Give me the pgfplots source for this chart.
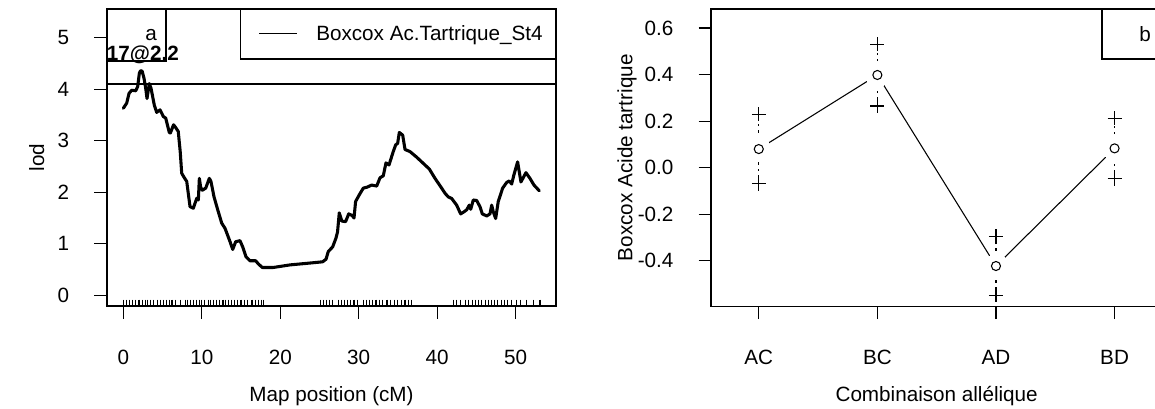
\documentclass[border=0pt]{standalone}
\usepackage{fontspec}
\setmainfont{Liberation Sans}
\usepackage{pgfplots}
\pgfplotsset{compat=1.18}

\pgfplotstableread{
x y
0.00 3.63
0.43 3.73
0.73 3.92
1.07 3.98
1.58 3.97
1.83 4.05
2.04 4.31
2.20 4.36
2.40 4.35
2.64 4.21
2.85 4.02
3.02 3.82
3.31 4.11
3.53 4.02
3.95 3.69
4.25 3.55
4.68 3.60
5.10 3.47
5.40 3.44
5.86 3.16
6.00 3.15
6.40 3.31
6.70 3.25
7.00 3.18
7.25 2.79
7.44 2.37
7.70 2.30
8.08 2.21
8.50 1.72
8.92 1.69
9.35 1.88
9.56 1.85
9.69 2.27
9.85 2.10
10.07 2.04
10.50 2.08
10.96 2.27
11.17 2.21
11.56 1.91
12.03 1.66
12.54 1.40
12.96 1.30
13.60 1.04
13.94 0.89
14.32 1.04
14.87 1.06
15.21 0.94
15.63 0.75
16.14 0.67
16.87 0.67
17.20 0.61
17.71 0.54
19.11 0.54
21.24 0.59
23.37 0.62
25.40 0.65
25.83 0.70
26.12 0.85
26.68 0.94
27.10 1.11
27.30 1.23
27.52 1.60
27.85 1.44
28.33 1.43
28.72 1.58
29.15 1.55
29.40 1.50
29.60 1.82
30.07 1.95
30.58 2.08
31.09 2.10
31.65 2.14
32.29 2.12
32.71 2.28
33.13 2.32
33.47 2.57
33.86 2.53
34.40 2.79
34.71 2.92
34.96 2.95
35.17 3.16
35.60 3.11
35.90 2.83
36.53 2.79
37.39 2.68
38.23 2.56
39.00 2.45
39.72 2.27
40.57 2.08
41.00 1.98
41.41 1.91
41.84 1.88
42.48 1.75
42.99 1.58
43.41 1.62
43.76 1.66
44.09 1.75
44.27 1.67
44.60 1.85
45.03 1.84
45.45 1.72
45.75 1.58
46.31 1.54
46.73 1.58
46.94 1.75
47.15 1.62
47.45 1.49
47.78 1.82
48.34 2.08
48.85 2.19
49.18 2.22
49.49 2.16
49.78 2.34
50.25 2.59
50.67 2.20
51.31 2.38
51.82 2.27
52.33 2.14
53.00 2.03
}\lodtable

\pgfplotstableread{
x y
0.0 -0.149
0.4 -0.149
0.8 -0.149
1.2 -0.149
1.6 -0.149
2.0 -0.149
2.4 -0.149
2.8 -0.149
3.1 -0.149
3.5 -0.149
3.9 -0.149
4.3 -0.149
4.7 -0.149
5.1 -0.149
5.5 -0.149
5.9 -0.149
6.2 -0.149
6.6 -0.149
7.3 -0.149
7.9 -0.149
8.2 -0.149
8.6 -0.149
9.0 -0.149
9.3 -0.149
9.7 -0.149
10.0 -0.149
10.4 -0.149
10.8 -0.149
11.1 -0.149
11.5 -0.149
11.9 -0.149
12.3 -0.149
12.7 -0.149
13.0 -0.149
13.4 -0.149
13.8 -0.149
14.2 -0.149
14.6 -0.149
15.0 -0.149
15.4 -0.149
15.8 -0.149
16.4 -0.149
16.8 -0.149
17.2 -0.149
17.6 -0.149
17.9 -0.149
25.1 -0.149
25.5 -0.149
25.9 -0.149
26.3 -0.149
26.7 -0.149
27.4 -0.149
27.8 -0.149
28.2 -0.149
28.6 -0.149
29.0 -0.149
29.4 -0.149
29.9 -0.149
30.6 -0.149
31.0 -0.149
31.4 -0.149
31.8 -0.149
32.2 -0.149
32.6 -0.149
33.0 -0.149
33.6 -0.149
34.0 -0.149
34.5 -0.149
34.9 -0.149
35.4 -0.149
35.9 -0.149
36.3 -0.149
36.7 -0.149
42.1 -0.149
42.5 -0.149
43.0 -0.149
43.6 -0.149
44.0 -0.149
44.5 -0.149
44.9 -0.149
45.3 -0.149
45.7 -0.149
46.1 -0.149
46.5 -0.149
46.9 -0.149
47.3 -0.149
47.7 -0.149
48.2 -0.149
48.6 -0.149
49.0 -0.149
49.5 -0.149
50.1 -0.149
50.6 -0.149
51.4 -0.149
52.3 -0.149
53.1 -0.149
}\rugtable

\pgfplotstableread{
x mean upper lower
1 0.080 0.229 -0.069
2 0.398 0.530 0.265
3 -0.422 -0.294 -0.548
4 0.083 0.212 -0.048
}\efftable

\newcommand{\rfont}{\fontsize{15.5}{18}\selectfont}

\pgfplotsset{
  rstyle/.style={
    scale only axis,
    tick align=outside,
    xtick pos=bottom, ytick pos=left,
    major tick length=9.5pt,
    axis line style={line width=1.3pt},
    every tick/.style={black, line width=0.9pt},
    tick label style={font=\rfont, inner sep=0pt},
    label style={font=\rfont, inner sep=0pt},
    /pgf/number format/assume math mode=true,
    xticklabel style={anchor=base, yshift=-34.3pt},
    yticklabel style={anchor=east, xshift=-18.75pt},
    clip=true,
  },
  dotstyle/.style={black, line width=0.9pt, dash pattern=on 1.6pt off 3.2pt},
}

\begin{document}
\begin{tikzpicture}
\useasboundingbox (0,0) rectangle (866.25pt,-306pt);

% ---------------- left panel ----------------
\begin{axis}[rstyle,
  at={(80.25pt,-229.5pt)}, anchor=south west,
  width=336.75pt, height=222.75pt,
  xmin=-2.08, xmax=55.14, ymin=-0.208, ymax=5.557,
  xtick={0,10,20,30,40,50}, xticklabels={0,10,20,30,40,50},
  ytick={0,1,2,3,4,5}, yticklabels={0,1,2,3,4,5},
  xlabel={Map position (cM)}, ylabel={lod},
  xlabel style={at={(axis description cs:0.5,-0.322)}, anchor=base},
  ylabel style={at={(axis description cs:-0.1403,0.5)}, anchor=base},
]
\addplot[black, line width=0.9pt] coordinates {(-2.08,4.1) (55.14,4.1)};
\addplot[black, line width=2.3pt, line join=round, line cap=round] table[x=x,y=y] {\lodtable};
\addplot[only marks, mark=|, mark size=2.6pt, mark options={black, line width=0.8pt}] table[x=x,y=y] {\rugtable};
% legend (box, sample line, text)
\draw[line width=1pt] (rel axis cs:0.2978,1) rectangle (rel axis cs:1,0.8316);
\draw[black, line width=0.75pt] (rel axis cs:0.3392,0.9182) -- (rel axis cs:0.4238,0.9182);
\node[font=\rfont, anchor=base west, inner sep=0pt] at (rel axis cs:0.4655,0.8933) {Boxcox Ac.Tartrique\_St4};
\draw[line width=1pt] (rel axis cs:0,1) rectangle (rel axis cs:0.1314,0.825);
\node[font=\rfont, anchor=base, inner sep=0pt] at (rel axis cs:0.098,0.8933) {a};
\node[font=\bfseries\rfont, anchor=base, inner sep=0pt] at (axis cs:2.49,4.55) {17@2.2};
\end{axis}

% ---------------- right panel ----------------
\begin{axis}[rstyle,
  at={(533.5pt,-229.9pt)}, anchor=south west,
  width=338pt, height=223.1pt,
  xmin=0.6, xmax=4.4, ymin=-0.596, ymax=0.681,
  xtick={1,2,3,4}, xticklabels={AC,BC,AD,BD},
  ytick={-0.4,-0.2,0,0.2,0.4,0.6}, yticklabels={-0.4,-0.2,0.0,0.2,0.4,0.6},
  xlabel={Combinaison allélique}, ylabel={Boxcox Acide tartrique},
  xlabel style={at={(axis description cs:0.5,-0.32)}, anchor=base},
  ylabel style={at={(axis description cs:-0.175,0.5)}, anchor=base},
]
\addplot[black, line width=0.8pt] table[x=x,y=mean] {\efftable};
\addplot[only marks, draw=none, mark=*, mark size=9pt, mark options={fill=white, draw=white, line width=0pt}] table[x=x,y=mean] {\efftable};
\addplot[dotstyle] coordinates {(1,-0.069) (1,0.229)};
\addplot[dotstyle] coordinates {(2,0.265) (2,0.530)};
\addplot[dotstyle] coordinates {(3,-0.548) (3,-0.294)};
\addplot[dotstyle] coordinates {(4,-0.048) (4,0.212)};
\addplot[only marks, mark=o, mark size=3.4pt, mark options={black, line width=0.8pt}] table[x=x,y=mean] {\efftable};
\addplot[only marks, mark=+, mark size=5.25pt, mark options={black, line width=0.8pt}] table[x=x,y=upper] {\efftable};
\addplot[only marks, mark=+, mark size=5.25pt, mark options={black, line width=0.8pt}] table[x=x,y=lower] {\efftable};
\draw[line width=1pt] (rel axis cs:0.8669,0.832) rectangle (rel axis cs:1,1);
\node[font=\rfont, anchor=base, inner sep=0pt] at (rel axis cs:0.9623,0.890) {b};
\end{axis}
\end{tikzpicture}
\end{document}
